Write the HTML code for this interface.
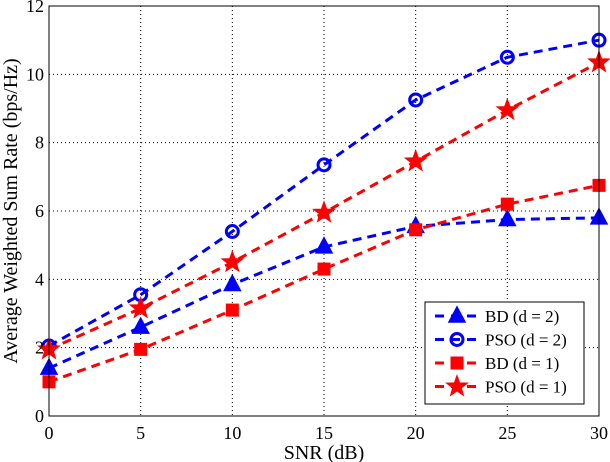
<!DOCTYPE html>
<html><head><meta charset="utf-8"><style>
body{margin:0;background:#fff;}
svg{display:block;font-family:"Liberation Serif",serif;}
</style></head><body>
<svg id="chart" width="610" height="462" xmlns="http://www.w3.org/2000/svg">
<g id="grid"></g>
<g id="series"></g>
<rect x="49" y="6" width="550" height="410" fill="none" stroke="#000" stroke-width="1"/>
<g id="ticks"></g>
<text x="324" y="459" font-size="20" text-anchor="middle">SNR (dB)</text>
<text transform="translate(17,211) rotate(-90)" font-size="20" text-anchor="middle">Average Weighted Sum Rate (bps/Hz)</text>
<g id="legend">
<rect x="425" y="302" width="159" height="102" fill="#fff" stroke="#000" stroke-width="1"/>
</g>
</svg>
<script>
const xValues=[0,5,10,15,20,25,30];
const bdD2=[1.4,2.6,3.85,4.95,5.55,5.75,5.8];
const psoD2=[2.05,3.55,5.4,7.35,9.25,10.5,11.0];
const bdD1=[1.0,1.95,3.1,4.3,5.45,6.2,6.75];
const psoD1=[1.95,3.15,4.5,5.95,7.45,8.95,10.35];
const xTicks=[0,5,10,15,20,25,30];
const yTicks=[0,2,4,6,8,10,12];
const labels=["BD (d = 2)","PSO (d = 2)","BD (d = 1)","PSO (d = 1)"];

const NS="http://www.w3.org/2000/svg";
const X=v=>49+v*550/30, Y=v=>416-v*410/12;
function mk(tag,attrs,parent){const e=document.createElementNS(NS,tag);for(const k in attrs)e.setAttribute(k,attrs[k]);parent.appendChild(e);return e;}
const grid=document.getElementById('grid'),ticks=document.getElementById('ticks'),ser=document.getElementById('series'),leg=document.getElementById('legend');
xTicks.forEach(t=>{
 if(t>0&&t<30){const l=mk('line',{x1:X(t),x2:X(t),y1:6,y2:416,stroke:'#000','stroke-dasharray':'1,3','stroke-width':1},grid);
 }
 const tx=mk('text',{x:X(t),y:439,'font-size':18,'text-anchor':'middle'},ticks);tx.textContent=t;
 
});
yTicks.forEach(t=>{
 if(t>0&&t<12){const l=mk('line',{x1:49,x2:599,y1:Y(t),y2:Y(t),stroke:'#000','stroke-dasharray':'1,3','stroke-width':1},grid);
 }
 const tx=mk('text',{x:44,y:Y(t)+6,'font-size':18,'text-anchor':'end'},ticks);tx.textContent=t;
 
});
function marker(type,x,y,color,g){
 let e;
 if(type==='tri'){e=mk('polygon',{points:`${x},${y-9} ${x-8},${y+6} ${x+8},${y+6}`,fill:color,stroke:color,'stroke-width':1.5},g);}
 else if(type==='circ'){e=mk('circle',{cx:x,cy:y,r:6,fill:'none',stroke:color,'stroke-width':3},g);}
 else if(type==='sq'){e=mk('rect',{x:x-6,y:y-6,width:12,height:12,fill:color,stroke:color,'stroke-width':1},g);}
 else{let p=[];for(let i=0;i<10;i++){const r=i%2?4.5:11,a=-Math.PI/2+i*Math.PI/5;p.push((x+r*Math.cos(a)).toFixed(1)+','+(y+r*Math.sin(a)).toFixed(1));}
 e=mk('polygon',{points:p.join(' '),fill:color,stroke:color,'stroke-width':1},g);}
 return e;
}
const defs=[[bdD2,'#0000ff','tri','series-bd-d2'],[psoD2,'#0000ff','circ','series-pso-d2'],[bdD1,'#ff0000','sq','series-bd-d1'],[psoD1,'#ff0000','star','series-pso-d1']];
defs.forEach(([vals,c,m,name],i)=>{
 const g=mk('g',{},ser);
 const pl=mk('polyline',{points:vals.map((v,j)=>X(xValues[j])+','+Y(v)).join(' '),fill:'none',stroke:c,'stroke-width':3,'stroke-dasharray':'9,6'},g);
 
 vals.forEach((v,j)=>{const e=marker(m,X(xValues[j]),Y(v),c,g);});
 const ly=316+i*23.5;
 const lg=mk('g',{},leg);
 mk('line',{x1:435,x2:479,y1:ly,y2:ly,stroke:c,'stroke-width':3,'stroke-dasharray':'9,7'},lg);
 marker(m,457,ly,c,lg);
 const t=mk('text',{x:485,y:ly+6,'font-size':17},lg);t.textContent=labels[i];
});
</script>
</body></html>
